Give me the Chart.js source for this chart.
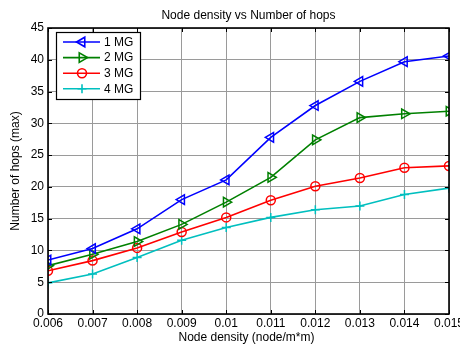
<!DOCTYPE html>
<html>
<head>
<meta charset="utf-8">
<script src="https://cdn.jsdelivr.net/npm/chart.js@4"></script>
<style>
  html, body { margin: 0; padding: 0; background: #fff; }
</style>
</head>
<body>
<canvas id="hopsChart" width="460" height="347"></canvas>
<script>
const densities = [0.006, 0.007, 0.008, 0.009, 0.010, 0.011, 0.012, 0.013, 0.014, 0.015];
const hops1MG = [8.5, 10.3, 13.4, 18.0, 21.1, 27.8, 32.8, 36.6, 39.7, 40.6];
const hops2MG = [7.6, 9.4, 11.4, 14.1, 17.6, 21.5, 27.4, 30.9, 31.5, 31.9];
const hops3MG = [6.8, 8.4, 10.4, 12.9, 15.2, 17.9, 20.1, 21.4, 23.0, 23.3];
const hops4MG = [4.9, 6.3, 8.9, 11.6, 13.6, 15.2, 16.4, 17.0, 18.8, 19.8];
const seriesNames = ['1 MG', '2 MG', '3 MG', '4 MG'];

const FONT = 'Liberation Sans, Arial, sans-serif';

function toPoints(values) {
  return values.map((v, i) => ({ x: densities[i], y: v }));
}

const styles = [
  { color: '#0000ff', pointStyle: 'triangle', rotation: -90, radius: 5.5 },
  { color: '#008000', pointStyle: 'triangle', rotation: 90, radius: 5.5 },
  { color: '#ff0000', pointStyle: 'circle', rotation: 0, radius: 4.5 },
  { color: '#00bfbf', pointStyle: 'cross', rotation: 0, radius: 4.5 }
];

const datasets = [hops1MG, hops2MG, hops3MG, hops4MG].map((vals, i) => ({
  label: seriesNames[i],
  data: toPoints(vals),
  borderColor: styles[i].color,
  backgroundColor: 'rgba(0,0,0,0)',
  borderWidth: 1.6,
  pointStyle: styles[i].pointStyle,
  pointRotation: styles[i].rotation,
  pointRadius: styles[i].radius,
  pointBorderWidth: 1.5,
  pointBorderColor: styles[i].color,
  pointBackgroundColor: 'rgba(0,0,0,0)',
  tension: 0
}));

// draws a marker like the legend of the original
function drawMarker(ctx, style, x, y, r) {
  ctx.beginPath();
  if (style.pointStyle === 'triangle') {
    let rad = style.rotation * Math.PI / 180;
    for (let k = 0; k < 3; k++) {
      const px = x + Math.sin(rad) * r, py = y - Math.cos(rad) * r;
      if (k === 0) ctx.moveTo(px, py); else ctx.lineTo(px, py);
      rad += 2 * Math.PI / 3;
    }
    ctx.closePath();
  } else if (style.pointStyle === 'circle') {
    ctx.arc(x, y, r, 0, Math.PI * 2);
  } else {
    ctx.moveTo(x - r, y); ctx.lineTo(x + r, y);
    ctx.moveTo(x, y - r); ctx.lineTo(x, y + r);
  }
  ctx.stroke();
}

const matlabFrame = {
  id: 'matlabFrame',
  afterDatasetsDraw(chart) {
    const { ctx, chartArea: a, scales } = chart;
    ctx.save();
    // inward ticks
    ctx.strokeStyle = '#000';
    ctx.lineWidth = 1;
    ctx.beginPath();
    scales.x.ticks.forEach(t => {
      const px = Math.round(scales.x.getPixelForValue(t.value)) + 0.5;
      ctx.moveTo(px, a.bottom); ctx.lineTo(px, a.bottom - 4);
      ctx.moveTo(px, a.top); ctx.lineTo(px, a.top + 4);
    });
    scales.y.ticks.forEach(t => {
      const py = Math.round(scales.y.getPixelForValue(t.value)) + 0.5;
      ctx.moveTo(a.left, py); ctx.lineTo(a.left + 4, py);
      ctx.moveTo(a.right, py); ctx.lineTo(a.right - 4, py);
    });
    ctx.stroke();
    // box
    ctx.lineWidth = 1.6;
    ctx.strokeRect(a.left, a.top, a.right - a.left, a.bottom - a.top);

    // legend
    const lx = 56, ly = 32, lw = 84, lh = 67;
    ctx.fillStyle = '#fff';
    ctx.fillRect(lx, ly, lw, lh);
    ctx.lineWidth = 1.2;
    ctx.strokeStyle = '#000';
    ctx.strokeRect(lx + 0.5, ly + 0.5, lw, lh);
    ctx.font = '12px ' + FONT;
    ctx.textBaseline = 'middle';
    ctx.textAlign = 'left';
    seriesNames.forEach((name, i) => {
      const y = 42 + i * 15.6;
      ctx.strokeStyle = styles[i].color;
      ctx.lineWidth = 1.6;
      ctx.beginPath();
      ctx.moveTo(63, y); ctx.lineTo(100, y);
      ctx.stroke();
      drawMarker(ctx, styles[i], 82, y, styles[i].radius);
      ctx.fillStyle = '#000';
      ctx.fillText(name, 104, y + 0.5);
    });

    // titles
    ctx.fillStyle = '#000';
    ctx.textAlign = 'center';
    ctx.font = '12px ' + FONT;
    ctx.fillText('Node density vs Number of hops', (a.left + a.right) / 2, 16);
    ctx.fillText('Node density (node/m*m)', (a.left + a.right) / 2 - 2, 338);
    ctx.translate(16, (a.top + a.bottom) / 2);
    ctx.rotate(-Math.PI / 2);
    ctx.fillText('Number of hops (max)', 0, 0);
    ctx.restore();
  }
};

new Chart(document.getElementById('hopsChart').getContext('2d'), {
  type: 'line',
  data: { datasets },
  plugins: [matlabFrame],
  options: {
    responsive: false,
    animation: false,
    layout: { padding: { top: 28, right: 11, left: 0, bottom: 0 } },
    plugins: {
      legend: { display: false },
      title: { display: false },
      tooltip: { enabled: false }
    },
    scales: {
      x: {
        type: 'linear',
        min: 0.006,
        max: 0.015,
        ticks: {
          stepSize: 0.001,
          color: '#000',
          font: { family: FONT, size: 12 },
          padding: 2,
          maxRotation: 0,
          autoSkip: false,
          callback: v => String(Number(v.toFixed(3)))
        },
        grid: { color: '#9a9a9a', lineWidth: 1, drawTicks: false },
        border: { display: false },
        afterFit(scale) {
          scale.height = 33;
          scale.paddingLeft = 0;
          scale.paddingRight = 0;
        }
      },
      y: {
        min: 0,
        max: 45,
        ticks: {
          stepSize: 5,
          color: '#000',
          font: { family: FONT, size: 12 },
          padding: 4
        },
        grid: { color: '#9a9a9a', lineWidth: 1, drawTicks: false },
        border: { display: false },
        afterFit(scale) {
          scale.width = 48;
          scale.paddingTop = 0;
          scale.paddingBottom = 0;
        }
      }
    }
  }
});
</script>
</body>
</html>
